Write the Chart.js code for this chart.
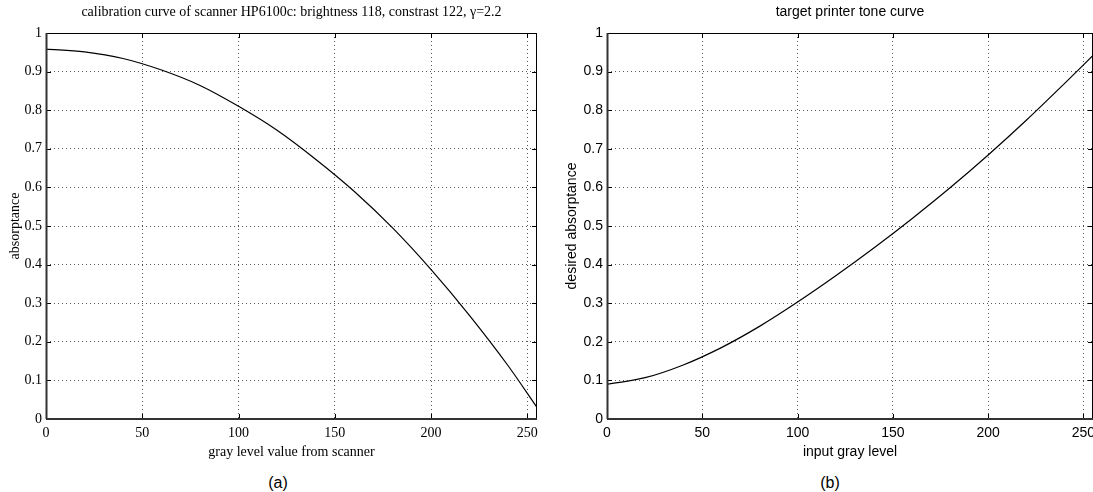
<!DOCTYPE html>
<html>
<head>
<meta charset="utf-8">
<script src="https://cdn.jsdelivr.net/npm/chart.js@4.4.1/dist/chart.umd.min.js"></script>
<style>
  body { margin:0; background:#fff; width:1093px; height:492px; overflow:hidden; position:relative; }
  .panel { position:absolute; top:0; height:462px; width:545px; }
  .caption { position:absolute; top:474px; font-family:"Liberation Sans", Arial, sans-serif;
             font-size:16px; color:#000; transform:translateX(-50%); line-height:18px; }
</style>
</head>
<body>
<div class="panel" style="left:0"><canvas id="chartA"></canvas></div>
<div class="panel" style="left:548px"><canvas id="chartB"></canvas></div>
<div class="caption" style="left:278px">(a)</div>
<div class="caption" style="left:830px">(b)</div>

<script>
// ============================================================
//  DATA
// ============================================================
var grayLevels = [0, 20, 40, 60, 80, 100, 120, 140, 160, 180, 200, 220, 240, 255];

// (a) scanner calibration curve
var scannerAbsorptance = [0.958, 0.951, 0.934, 0.904, 0.864, 0.810, 0.748, 0.673, 0.590, 0.495, 0.387, 0.268, 0.138, 0.030];

// (b) target printer tone curve
var desiredAbsorptance = [0.090, 0.107, 0.140, 0.185, 0.240, 0.303, 0.371, 0.443, 0.519, 0.599, 0.684, 0.774, 0.869, 0.942];

var xTicks = [0, 50, 100, 150, 200, 250];
var yTicks = [0, 0.1, 0.2, 0.3, 0.4, 0.5, 0.6, 0.7, 0.8, 0.9, 1];

var titleA = "calibration curve of scanner HP6100c: brightness 118, constrast 122, \u03b3=2.2";
var titleB = "target printer tone curve";


// ============================================================
//  MATLAB-ish frame: box + inward tick marks on all sides
// ============================================================
var matlabFrame = {
  id: "matlabFrame",
  afterDatasetsDraw: function(chart) {
    var a   = chart.chartArea;
    var ctx = chart.ctx;
    var xs  = chart.scales.x;
    var ys  = chart.scales.y;
    var L = Math.round(a.left), R = Math.round(a.right);
    var T = Math.round(a.top),  B = Math.round(a.bottom);

    ctx.save();
    ctx.strokeStyle = "#000";
    ctx.lineWidth   = 1;
    ctx.beginPath();
    xs.ticks.forEach(function(t) {
      var px = Math.round(xs.getPixelForValue(t.value)) + 0.5;
      ctx.moveTo(px, B); ctx.lineTo(px, B - 5);
      ctx.moveTo(px, T); ctx.lineTo(px, T + 5);
    });
    ys.ticks.forEach(function(t) {
      var py = Math.round(ys.getPixelForValue(t.value)) + 0.5;
      ctx.moveTo(L, py); ctx.lineTo(L + 5, py);
      ctx.moveTo(R, py); ctx.lineTo(R - 5, py);
    });
    // top + right edges
    ctx.moveTo(L, T + 0.5); ctx.lineTo(R, T + 0.5);
    ctx.moveTo(R - 0.5, T); ctx.lineTo(R - 0.5, B);
    ctx.stroke();

    // left + bottom edges a bit heavier
    ctx.strokeStyle = "#333";
    ctx.lineWidth   = 2;
    ctx.beginPath();
    ctx.moveTo(L + 0.5, T); ctx.lineTo(L + 0.5, B);
    ctx.moveTo(L, B); ctx.lineTo(R, B);
    ctx.stroke();
    ctx.restore();
  }
};


// ============================================================
//  CHART BUILDER
// ============================================================
function makeChart(canvasId, opts) {
  var font = { family: opts.family, size: 14 };

  return new Chart(document.getElementById(canvasId), {
    type: "line",
    data: {
      datasets: [{
        data: grayLevels.map(function(g, i) { return { x: g, y: opts.values[i] }; }),
        borderColor: "#000",
        borderWidth: 1.2,
        pointRadius: 0,
        fill: false,
        cubicInterpolationMode: "monotone"
      }]
    },
    options: {
      responsive: true,
      maintainAspectRatio: false,
      animation: false,
      events: [],
      layout: {
        autoPadding: false,
        padding: { left: 0, top: 0, right: opts.padRight, bottom: 0 }
      },
      plugins: {
        legend: { display: false },
        tooltip: { enabled: false },
        title: {
          display: true,
          text: opts.title,
          fullSize: false,
          color: "#000",
          font: { family: opts.family, size: 14, weight: "normal" },
          padding: { top: 4, bottom: 12.2 }
        }
      },
      scales: {
        x: {
          type: "linear",
          min: 0,
          max: 255,
          afterBuildTicks: function(s) { s.ticks = xTicks.map(function(v) { return { value: v }; }); },
          afterFit: function(s) { s.height = 43; s.paddingLeft = 0; s.paddingRight = 0; },
          grid: { color: "#555", lineWidth: 1, drawTicks: false },
          border: { display: false, dash: [1, 3] },
          ticks: { color: "#000", font: font, padding: 6, maxRotation: 0 },
          title: { display: true, text: opts.xLabel, color: "#000", font: font, padding: { top: 0, bottom: 1 } }
        },
        y: {
          type: "linear",
          min: 0,
          max: 1,
          afterBuildTicks: function(s) { s.ticks = yTicks.map(function(v) { return { value: v }; }); },
          afterFit: function(s) { s.width = opts.yWidth; s.paddingTop = 0; s.paddingBottom = 0; },
          grid: { color: "#555", lineWidth: 1, drawTicks: false },
          border: { display: false, dash: [1, 3] },
          ticks: {
            color: "#000", font: font, padding: 4,
            callback: function(v) { return (v === 0 || v === 1) ? String(v) : v.toFixed(1); }
          },
          title: { display: true, text: opts.yLabel, color: "#000", font: font, padding: { top: opts.yTitlePad, bottom: 0 } }
        }
      }
    },
    plugins: [matlabFrame]
  });
}


// ============================================================
//  INIT
// ============================================================
makeChart("chartA", {
  family: "'Liberation Serif', 'Times New Roman', serif",
  values: scannerAbsorptance,
  title: titleA,
  xLabel: "gray level value from scanner",
  yLabel: "absorptance",
  yWidth: 46,
  yTitlePad: 7,
  padRight: 8
});

makeChart("chartB", {
  family: "'Liberation Sans', Arial, sans-serif",
  values: desiredAbsorptance,
  title: titleB,
  xLabel: "input gray level",
  yLabel: "desired absorptance",
  yWidth: 59,
  yTitlePad: 16,
  padRight: 0
});
</script>
</body>
</html>
